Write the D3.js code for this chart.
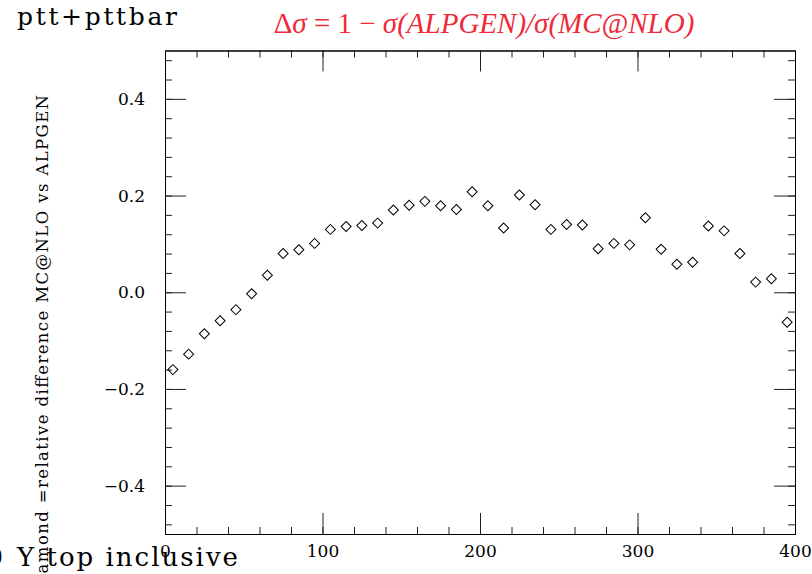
<!DOCTYPE html>
<html>
<head>
<meta charset="utf-8">
<script src="https://cdn.jsdelivr.net/npm/d3@7"></script>
<style>
  html, body { margin: 0; padding: 0; background: #fff; }
  svg { display: block; }
</style>
</head>
<body>
<svg id="chart" width="812" height="574"></svg>
<script>
// ---- data ----
const binCenters = [5, 15, 25, 35, 45, 55, 65, 75, 85, 95,
                    105, 115, 125, 135, 145, 155, 165, 175, 185, 195,
                    205, 215, 225, 235, 245, 255, 265, 275, 285, 295,
                    305, 315, 325, 335, 345, 355, 365, 375, 385, 395];
const relDiff = [-0.160, -0.128, -0.086, -0.059, -0.036, -0.003, 0.035, 0.080, 0.088, 0.101,
                 0.130, 0.136, 0.138, 0.143, 0.170, 0.180, 0.188, 0.179, 0.171, 0.208,
                 0.179, 0.133, 0.201, 0.181, 0.130, 0.140, 0.139, 0.090, 0.101, 0.098,
                 0.154, 0.089, 0.058, 0.062, 0.137, 0.127, 0.080, 0.021, 0.028, -0.062];
const xMajorTicks = [0, 100, 200, 300, 400];
const xTickLabels = ["0", "100", "200", "300", "400"];
const yMajorTicks = [-0.4, -0.2, 0.0, 0.2, 0.4];
const yTickLabels = ["\u22120.4", "\u22120.2", "0.0", "0.2", "0.4"];
const xDomain = [0, 400];
const yDomain = [-0.5, 0.5];

// ---- layout ----
const svg = d3.select("#chart");
const pLeft = 165, pRight = 795, pTop = 50.5, pBottom = 534;
const x = d3.scaleLinear().domain(xDomain).range([pLeft, pRight]);
const y = d3.scaleLinear().domain(yDomain).range([pBottom, pTop]);

const tickFont = "'DejaVu Serif', serif";
const xMinor = d3.range(0, 400.001, 20);
const yMinor = d3.range(-0.48, 0.4801, 0.04).map(v => +v.toFixed(2));

function styleAxis(g) {
  g.selectAll("path.domain").attr("stroke", "#000").attr("stroke-width", 1);
  g.selectAll(".tick line").attr("stroke", "#222").attr("stroke-width", 1);
  g.selectAll("text").attr("fill", "#000").attr("font-family", tickFont).attr("font-size", 17);
}

// bottom axis
svg.append("g").attr("transform", `translate(0,${pBottom})`)
  .call(d3.axisBottom(x).tickValues(xMinor).tickSize(-7).tickSizeOuter(0).tickFormat(""))
  .call(styleAxis);
svg.append("g").attr("transform", `translate(0,${pBottom})`)
  .call(d3.axisBottom(x).tickValues(xMajorTicks).tickSize(-21).tickSizeOuter(0).tickPadding(11)
        .tickFormat((d, i) => xTickLabels[i]))
  .call(styleAxis);
// top axis
svg.append("g").attr("transform", `translate(0,${pTop})`)
  .call(d3.axisTop(x).tickValues(xMinor).tickSize(-7).tickSizeOuter(0).tickFormat(""))
  .call(styleAxis);
svg.append("g").attr("transform", `translate(0,${pTop})`)
  .call(d3.axisTop(x).tickValues(xMajorTicks).tickSize(-21).tickSizeOuter(0).tickFormat(""))
  .call(styleAxis);
// left axis
svg.append("g").attr("transform", `translate(${pLeft},0)`)
  .call(d3.axisLeft(y).tickValues(yMinor).tickSize(-7).tickSizeOuter(0).tickFormat(""))
  .call(styleAxis);
svg.append("g").attr("transform", `translate(${pLeft},0)`)
  .call(d3.axisLeft(y).tickValues(yMajorTicks).tickSize(-21).tickSizeOuter(0).tickPadding(20)
        .tickFormat((d, i) => yTickLabels[i]))
  .call(styleAxis);
// right axis
svg.append("g").attr("transform", `translate(${pRight},0)`)
  .call(d3.axisRight(y).tickValues(yMinor).tickSize(-7).tickSizeOuter(0).tickFormat(""))
  .call(styleAxis);
svg.append("g").attr("transform", `translate(${pRight},0)`)
  .call(d3.axisRight(y).tickValues(yMajorTicks).tickSize(-21).tickSizeOuter(0).tickFormat(""))
  .call(styleAxis);

// ---- points ----
const diamond = d3.symbol().type(d3.symbolSquare).size(50);
svg.append("g").selectAll("path")
  .data(binCenters.map((c, i) => [c, relDiff[i]]))
  .join("path")
  .attr("d", diamond)
  .attr("transform", d => `translate(${x(d[0])},${y(d[1])}) rotate(45)`)
  .attr("fill", "none")
  .attr("stroke", "#000")
  .attr("stroke-width", 1);

// ---- texts ----
svg.append("text")
  .attr("x", 17).attr("y", 25)
  .attr("font-family", tickFont).attr("font-size", 25)
  .attr("textLength", 160).attr("lengthAdjust", "spacing")
  .attr("fill", "#000")
  .text("ptt+pttbar");

const title = svg.append("text")
  .attr("x", 484).attr("y", 33)
  .attr("text-anchor", "middle")
  .attr("font-family", "'Liberation Serif', serif").attr("font-size", 29)
  .attr("fill", "#ee2a3a");
title.append("tspan").text("\u0394");
title.append("tspan").attr("font-style", "italic").text("\u03c3");
title.append("tspan").text(" = 1 \u2212 ");
title.append("tspan").attr("font-style", "italic").text("\u03c3(ALPGEN)/\u03c3(MC@NLO)");

svg.append("text")
  .attr("transform", "translate(48,95) rotate(-90)")
  .attr("text-anchor", "end")
  .attr("font-family", tickFont).attr("font-size", 16.5)
  .attr("textLength", 497).attr("lengthAdjust", "spacing")
  .attr("fill", "#000")
  .text("diamond =relative difference MC@NLO vs ALPGEN");

svg.append("text")
  .attr("x", 17).attr("y", 566)
  .attr("font-family", tickFont).attr("font-size", 26)
  .attr("textLength", 221).attr("lengthAdjust", "spacing")
  .attr("fill", "#000")
  .text("Y top inclusive");

svg.append("text")
  .attr("x", 3).attr("y", 566)
  .attr("text-anchor", "end")
  .attr("font-family", tickFont).attr("font-size", 26)
  .attr("fill", "#000")
  .text("0");
</script>
</body>
</html>
